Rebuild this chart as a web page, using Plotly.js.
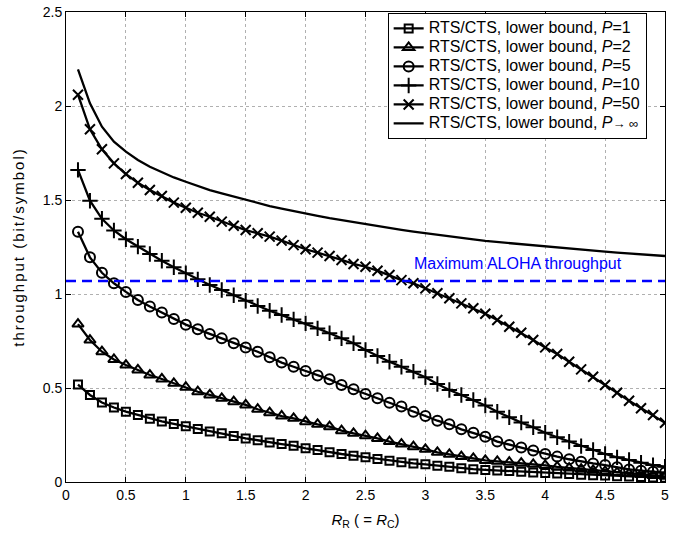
<!DOCTYPE html>
<html>
<head>
<meta charset="utf-8">
<script src="https://cdn.plot.ly/plotly-3.0.1.min.js"></script>
<style>html,body{margin:0;padding:0;background:#fff;}#chart{width:675px;height:533px;}</style>
</head>
<body>
<div id="chart"></div>
<script>
const xVals = [0.1,0.2,0.3,0.4,0.5,0.6,0.7,0.8,0.9,1.0,1.1,1.2,1.3,1.4,1.5,1.6,1.7,1.8,1.9,2.0,2.1,2.2,2.3,2.4,2.5,2.6,2.7,2.8,2.9,3.0,3.1,3.2,3.3,3.4,3.5,3.6,3.7,3.8,3.9,4.0,4.1,4.2,4.3,4.4,4.5,4.6,4.7,4.8,4.9,5.0];

const p1 = [0.518,0.463,0.423,0.396,0.374,0.356,0.337,0.322,0.309,0.296,0.282,0.268,0.259,0.245,0.232,0.222,0.210,0.202,0.193,0.179,0.170,0.158,0.149,0.140,0.131,0.122,0.113,0.105,0.099,0.094,0.087,0.081,0.073,0.068,0.064,0.061,0.058,0.054,0.051,0.048,0.045,0.042,0.039,0.036,0.034,0.031,0.029,0.026,0.024,0.022];

const p2 = [0.840,0.755,0.693,0.652,0.622,0.596,0.569,0.548,0.525,0.504,0.480,0.463,0.445,0.427,0.410,0.387,0.369,0.351,0.339,0.321,0.307,0.294,0.273,0.259,0.246,0.232,0.215,0.202,0.188,0.174,0.158,0.147,0.135,0.126,0.115,0.110,0.105,0.100,0.094,0.088,0.080,0.074,0.068,0.062,0.056,0.050,0.045,0.040,0.035,0.030];

const p5 = [1.331,1.195,1.113,1.057,1.011,0.968,0.933,0.901,0.867,0.837,0.812,0.787,0.764,0.738,0.716,0.693,0.664,0.635,0.613,0.590,0.567,0.546,0.516,0.493,0.468,0.445,0.422,0.401,0.374,0.351,0.326,0.307,0.280,0.262,0.241,0.215,0.197,0.183,0.167,0.149,0.135,0.121,0.108,0.099,0.090,0.078,0.067,0.060,0.055,0.050];

const p10 = [1.660,1.496,1.400,1.338,1.291,1.252,1.213,1.177,1.142,1.110,1.078,1.048,1.021,0.993,0.964,0.936,0.911,0.888,0.865,0.844,0.817,0.791,0.764,0.738,0.702,0.670,0.640,0.613,0.587,0.557,0.521,0.489,0.463,0.436,0.407,0.374,0.344,0.316,0.291,0.262,0.238,0.215,0.191,0.170,0.149,0.131,0.117,0.103,0.090,0.081];

const p50 = [2.060,1.876,1.770,1.695,1.638,1.592,1.553,1.521,1.486,1.459,1.432,1.411,1.385,1.363,1.340,1.323,1.305,1.284,1.260,1.238,1.220,1.202,1.181,1.160,1.145,1.124,1.101,1.074,1.057,1.030,1.004,0.977,0.950,0.924,0.895,0.862,0.826,0.794,0.755,0.716,0.681,0.640,0.599,0.560,0.516,0.475,0.432,0.392,0.356,0.315];

const pInf = [2.195,2.014,1.890,1.810,1.757,1.713,1.677,1.647,1.620,1.597,1.574,1.553,1.535,1.518,1.500,1.484,1.468,1.454,1.440,1.427,1.415,1.403,1.392,1.381,1.370,1.360,1.350,1.341,1.332,1.323,1.315,1.306,1.298,1.290,1.282,1.276,1.270,1.264,1.258,1.252,1.247,1.241,1.236,1.230,1.225,1.220,1.216,1.211,1.206,1.202];

const alohaX = [0, 5];
const alohaY = [1.069, 1.069];

const seriesNames = [
  'RTS/CTS, lower bound, <i>P</i>=1',
  'RTS/CTS, lower bound, <i>P</i>=2',
  'RTS/CTS, lower bound, <i>P</i>=5',
  'RTS/CTS, lower bound, <i>P</i>=10',
  'RTS/CTS, lower bound, <i>P</i>=50',
  'RTS/CTS, lower bound, <i>P</i><span style="font-size:13px">\u2192 \u221E</span>'
];
const xTickVals = [0,0.5,1,1.5,2,2.5,3,3.5,4,4.5,5];
const yTickVals = [0,0.5,1,1.5,2,2.5];

const FONT = 'Liberation Sans, Arial, Helvetica, sans-serif';
const symbols = ['square-open','triangle-up-open','circle-open','cross-thin-open','x-thin-open'];
const sizes = [8,10,10,11,10];
const wrapName = s => '<span style="font-size:16px">' + s + '</span>';
const data = [p1,p2,p5,p10,p50].map((ys,i)=>({
  x: xVals, y: ys, type:'scatter', mode:'lines+markers', name: wrapName(seriesNames[i]),
  line:{color:'#000', width:2.3},
  marker:{symbol:symbols[i], size:sizes[i], color:'#000', line:{color:'#000', width:2}}
}));
data.push({x:xVals, y:pInf, type:'scatter', mode:'lines', name:wrapName(seriesNames[5]), line:{color:'#000', width:2.3}});
data.push({x:alohaX, y:alohaY, type:'scatter', mode:'lines', showlegend:false, hoverinfo:'skip',
  line:{color:'#0000ff', width:2.5, dash:'10px,6px'}});

const axisCommon = {
  showline:true, linecolor:'#000', linewidth:1, mirror:'ticks',
  ticks:'inside', ticklen:5, tickcolor:'#000',
  showgrid:true, gridcolor:'#b0b0b0', griddash:'dot', gridwidth:1,
  zeroline:false, tickfont:{family:FONT, size:14, color:'#000'}
};

const layout = {
  width:675, height:533,
  margin:{l:66, r:10, t:12, b:51},
  paper_bgcolor:'#fff', plot_bgcolor:'#fff',
  showlegend:true,
  legend:{x:0.537, y:0.998, xanchor:'left', yanchor:'top', bgcolor:'#fff', bordercolor:'#000', borderwidth:1,
    font:{family:FONT, size:12, color:'#000'}, tracegroupgap:0, itemwidth:30},
  xaxis:Object.assign({}, axisCommon, {range:[0,5], tickvals:xTickVals,
    title:{text:'<i>R</i><sub>R</sub> ( = <i>R</i><sub>C</sub>)', font:{family:FONT, size:15, color:'#000'}, standoff:12}}),
  yaxis:Object.assign({}, axisCommon, {range:[0,2.5], tickvals:yTickVals,
    title:{text:'<span style="letter-spacing:2px">throughput (bit/symbol)</span>', font:{family:FONT, size:15, color:'#000'}, standoff:14}}),
  annotations:[{x:3.77, y:1.16, xref:'x', yref:'y', text:'Maximum ALOHA throughput', showarrow:false,
    font:{family:FONT, size:16, color:'#0000ff'}}]
};

Plotly.newPlot('chart', data, layout, {displayModeBar:false, staticPlot:true});
</script>
</body>
</html>
